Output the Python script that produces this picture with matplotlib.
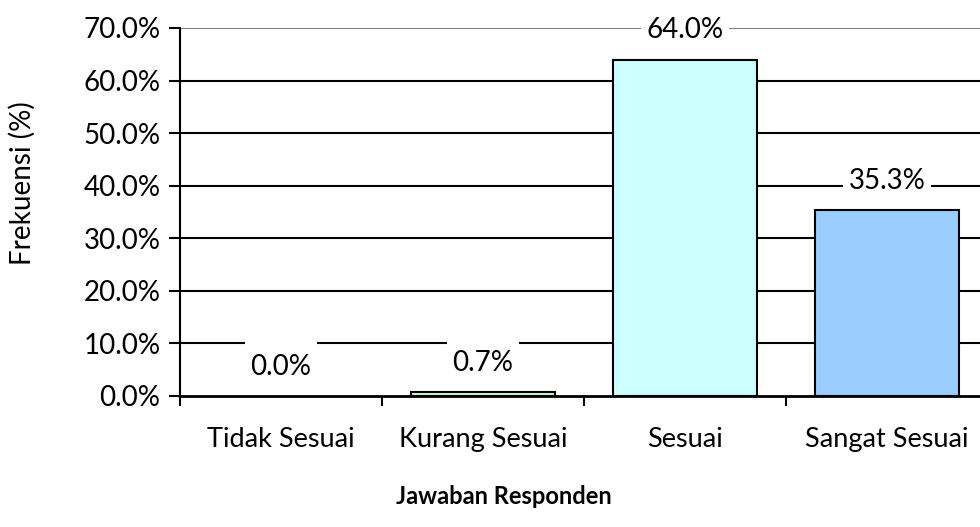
#!/usr/bin/env python3

import matplotlib
matplotlib.use('Agg')
import matplotlib.pyplot as plt
from matplotlib.path import Path
import numpy as np

##################

categories = ['Tidak Sesuai', 'Kurang Sesuai', 'Sesuai', 'Sangat Sesuai']
values = [0.0, 0.7, 64.0, 35.3]
bar_colors = ['#FFFFFF', '#CCFFCC', '#CCFFFF', '#99CCFF']
y_ticks = [0, 10, 20, 30, 40, 50, 60, 70]

##################

plt.rcParams['font.family'] = ['Lato', 'DejaVu Sans']


def label_box(x0, y0, width, height, mutation_size):
    # white label box, taller on top like the Excel data labels
    padx = 0.2 * mutation_size
    x0, x1 = x0 - padx, x0 + width + padx
    y0, y1 = y0 - 0.15 * mutation_size, y0 + height + 0.7 * mutation_size
    return Path([(x0, y0), (x1, y0), (x1, y1), (x0, y1), (x0, y0)], closed=True)


fig = plt.figure(figsize=(9.8, 5.27), dpi=100)
ax = fig.add_axes([180 / 980, 1 - 396 / 527, 808 / 980, 368 / 527])

x = np.arange(len(categories)) + 0.5
bars = ax.bar(x, values, width=0.71, color=bar_colors, edgecolor='black',
              linewidth=1.5, zorder=3)
# zero-height bar shows nothing
bars[0].set_linewidth(0)

ax.set_xlim(0, len(categories))
ax.set_ylim(0, 70)

# gridlines
for t in y_ticks[1:]:
    ax.axhline(t, color='#808080' if t == 70 else 'black', linewidth=1.5, zorder=1)

ax.set_yticks(y_ticks)
ax.set_yticklabels([f'{t:.1f}%' for t in y_ticks], fontsize=20)
ax.set_xticks(np.arange(len(categories) + 1))
ax.set_xticklabels([])
ax.set_xticks(x, minor=True)
ax.set_xticklabels(categories, minor=True, fontsize=19.5)
ax.tick_params(axis='x', which='minor', length=0, pad=22)
ax.tick_params(axis='x', which='major', direction='out', length=7, width=1.5)
ax.tick_params(axis='y', direction='out', length=8, width=1.5, pad=6)

for side in ['top', 'right']:
    ax.spines[side].set_visible(False)
ax.spines['left'].set_linewidth(1.5)
ax.spines['bottom'].set_linewidth(2)

for xi, v in zip(x, values):
    ax.annotate(f'{v:.1f}%', (xi, v), xytext=(0, 21), textcoords='offset points',
                ha='center', va='center', fontsize=20, zorder=4,
                bbox=dict(boxstyle=label_box, facecolor='white', edgecolor='none'))

fig.text(22 / 980, 1 - 183 / 527, 'Frekuensi (%)', rotation=90, ha='center', va='center',
         fontsize=20)
fig.text(504 / 980, 1 - 497 / 527, 'Jawaban Responden', ha='center', va='center',
         fontsize=17, fontweight='bold')

fig.savefig('out.png', dpi=100)
